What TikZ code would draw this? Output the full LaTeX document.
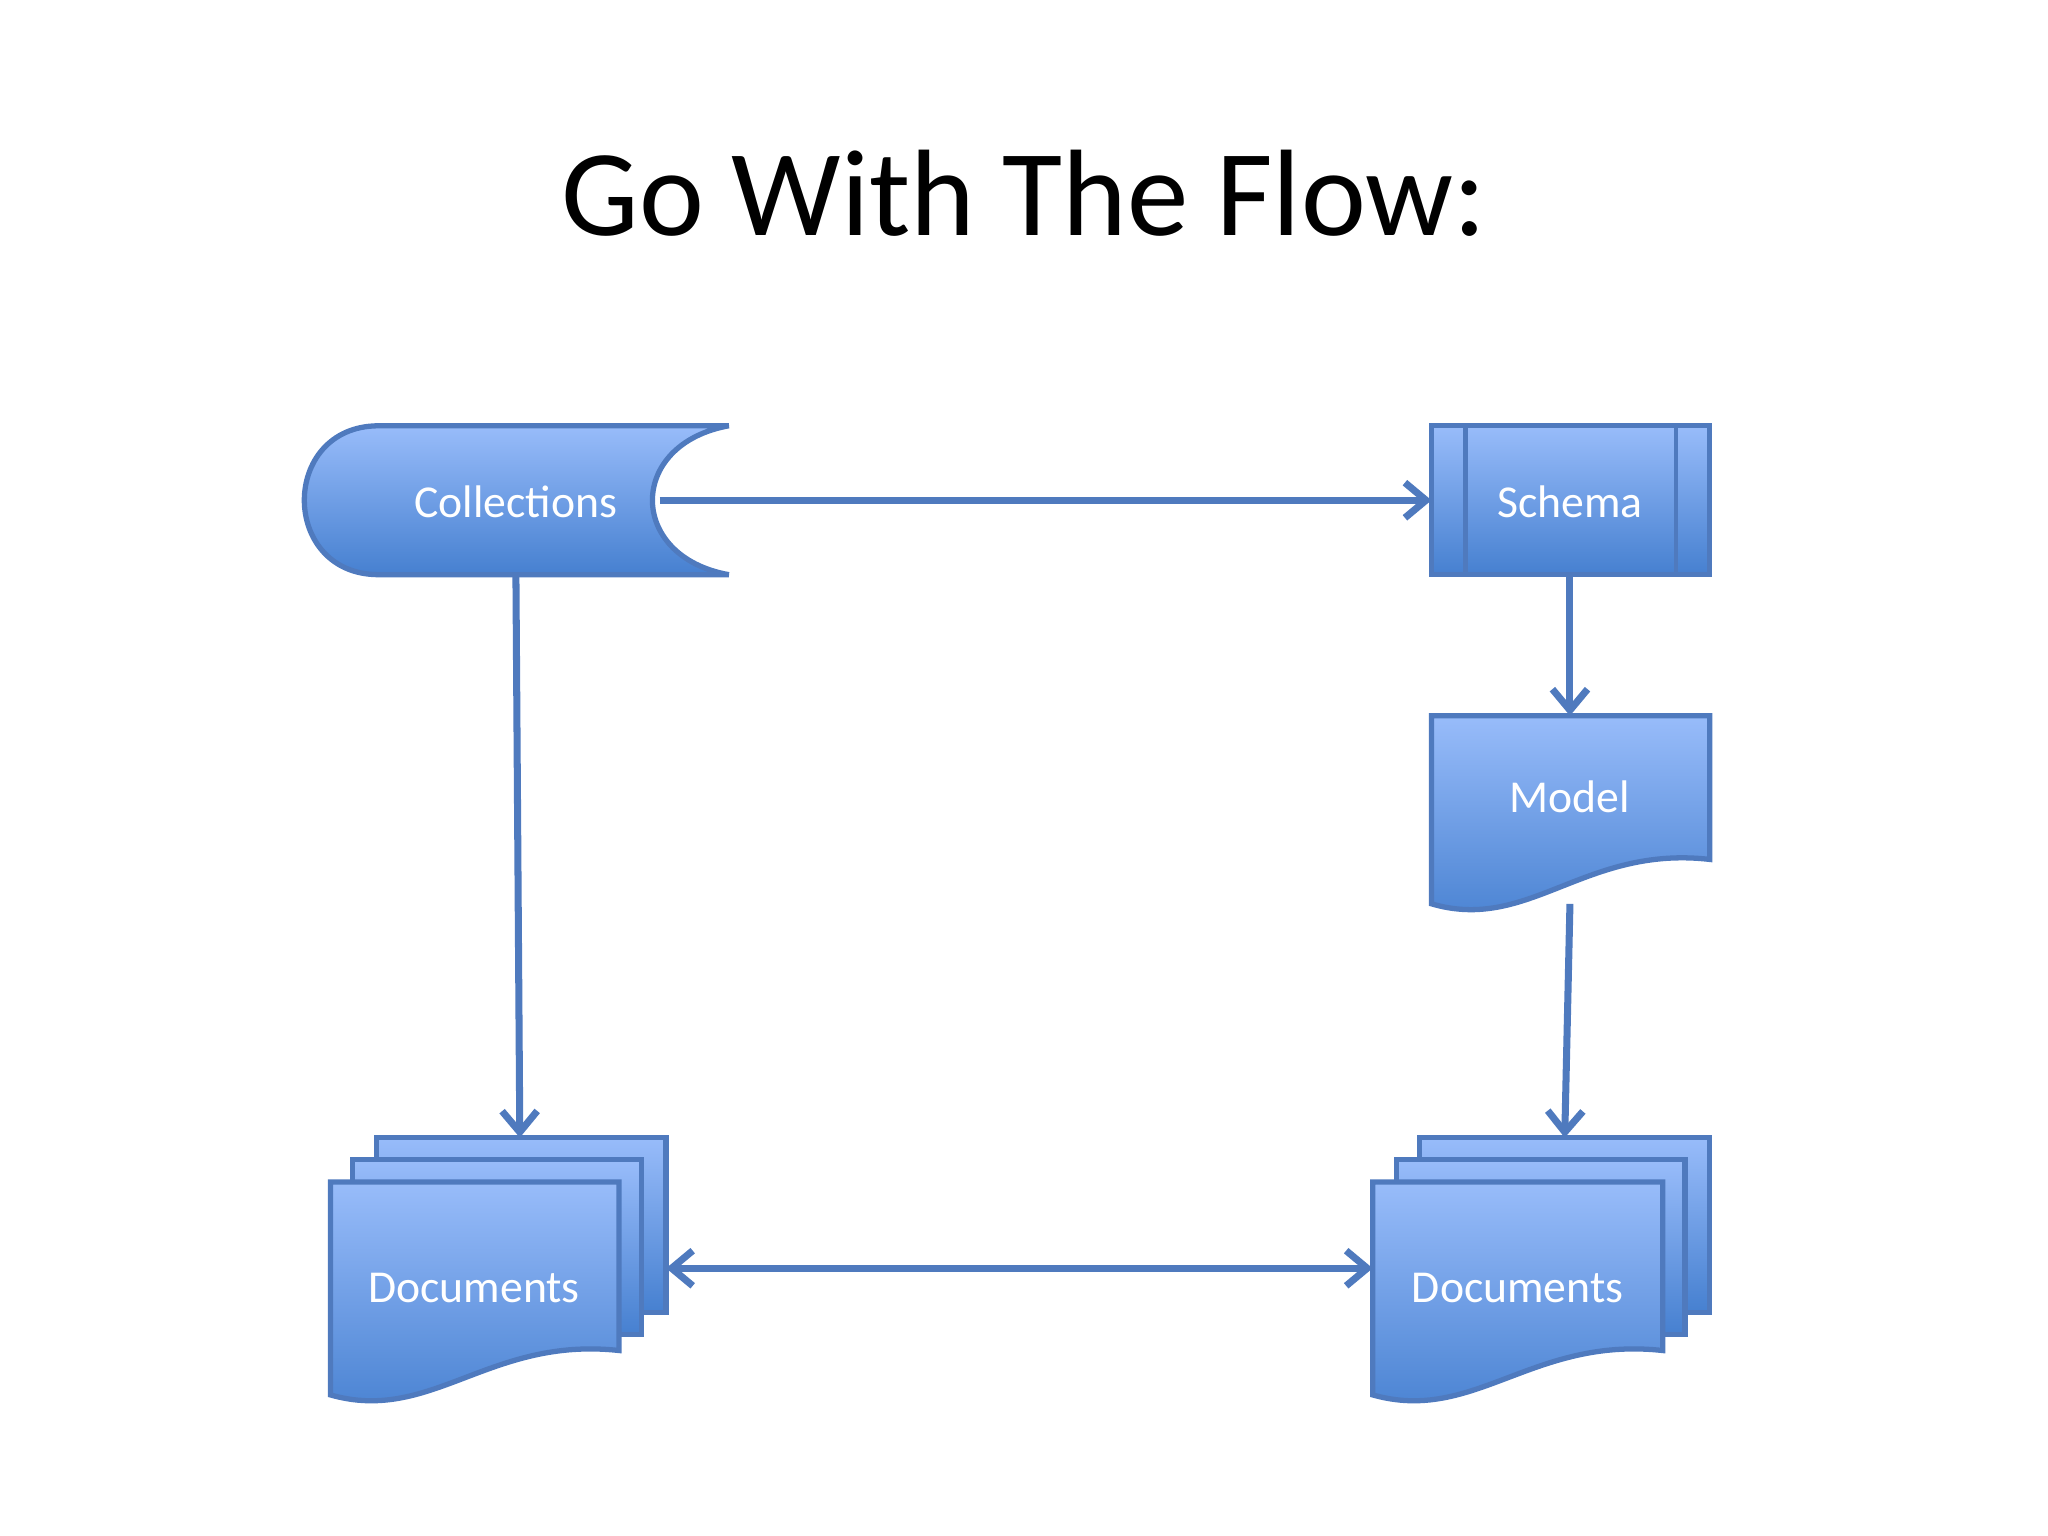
\documentclass[tikz,border=0pt]{standalone}
\usepackage{fontspec}
\setmainfont{Carlito}
\usetikzlibrary{arrows.meta}
\definecolor{ln}{RGB}{79,122,190}
\definecolor{ftop}{RGB}{152,188,250}
\definecolor{fbot}{RGB}{70,128,208}
\tikzset{
 shp/.style={draw=ln,line width=1.5pt,top color=ftop,bottom color=fbot},
 lbl/.style={text=white,font=\fontsize{13}{15}\selectfont},
 con/.style={draw=ln,line width=2pt,-{Straight Barb[length=6pt,width=10pt]}}
}
\newcommand{\docshape}[4]{% left, top, right, bottom(left)
 \path[shp] (#1,#2) -- (#3,#2) -- (#3,#4-34) .. controls ({#1+0.55*(#3-#1)},#4-45) and ({#1+0.35*(#3-#1)},#4+22) .. (#1,#4) -- cycle;}
\begin{document}
\begin{tikzpicture}[x={(0.013061cm,0)},y={(0,-0.013061cm)}]
\useasboundingbox (0,0) rectangle (1568,1176);
\node (title) at (784,148) {\fontsize{35}{40}\selectfont Go With The Flow:};
% Collections
\path[shp] (290,326) -- (558,326) .. controls (480,340) and (480,426) .. (558,440) -- (290,440) .. controls (214,440) and (214,326) .. (290,326) -- cycle;
\node[lbl] (coll) at (395,384) {Collections};
% Schema
\path[shp] (1096,326) rectangle (1309,440);
\draw[ln,line width=1.2pt] (1122,326) -- (1122,440) (1283,326) -- (1283,440);
\node[lbl] (schema) at (1202,384) {Schema};
% Model
\docshape{1096}{548}{1309}{692}
\node[lbl] (model) at (1202,610) {Model};
% Documents left
\path[shp] (288,871) rectangle (510,1005);
\path[shp] (270,888) rectangle (491,1022);
\docshape{253}{905}{474}{1068}
\node[lbl] (docl) at (363,986) {Documents};
% Documents right
\path[shp] (1087,871) rectangle (1309,1005);
\path[shp] (1069,888) rectangle (1290,1022);
\docshape{1051}{905}{1273}{1068}
\node[lbl] (docr) at (1162,986) {Documents};
% anchor points
\coordinate (cR) at (505,383);
\coordinate (sL) at (1096,383);
\coordinate (cB) at (395,440);
\coordinate (dlT) at (398,871);
\coordinate (sB) at (1202,440);
\coordinate (mT) at (1202,548);
\coordinate (mB) at (1202,692);
\coordinate (drT) at (1198,871);
\coordinate (dlR) at (510,971);
\coordinate (drL) at (1051,971);
\draw[con] (cR) -- (sL);
\draw[con] (cB) -- (dlT);
\draw[con] (sB) -- (mT);
\draw[con] (mB) -- (drT);
\draw[con,{Straight Barb[length=6pt,width=10pt]}-{Straight Barb[length=6pt,width=10pt]}] (dlR) -- (drL);
\end{tikzpicture}
\end{document}
